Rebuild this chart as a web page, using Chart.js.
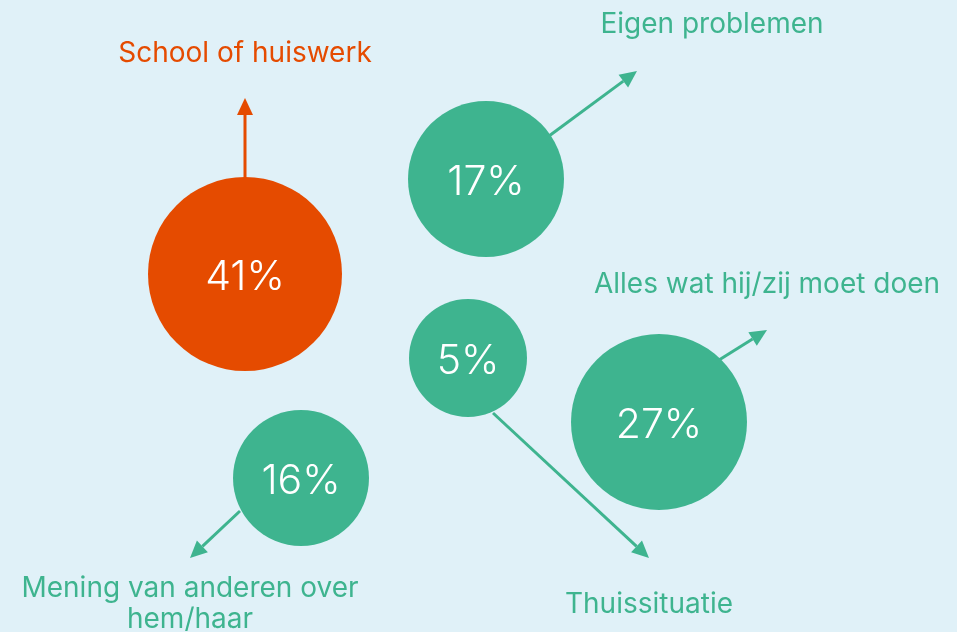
<!DOCTYPE html>
<html>
<head>
<meta charset="utf-8">
<script src="https://cdn.jsdelivr.net/npm/chart.js@4.4.1/dist/chart.umd.min.js"></script>
<style>
  html, body { margin: 0; padding: 0; background: #E0F1F8; }
  #wrap { width: 957px; height: 632px; }
</style>
</head>
<body>
<div id="wrap"><canvas id="bubbleChart" width="957" height="632"></canvas></div>
<script>
// categories and values
const categories = ['School of huiswerk', 'Eigen problemen', 'Thuissituatie', 'Alles wat hij/zij moet doen', ['Mening van anderen over', 'hem/haar']];
const shares = [41, 17, 5, 27, 16];
// bubble layout (free placement, in layout units)
const bubbleX = [245, 486, 468, 659, 301];
const bubbleY = [274, 179, 358, 422, 478];
const bubbleR = [97, 78, 59, 88, 68];

const ORANGE = '#E54B00';
const GREEN = '#3EB48F';
const BG = '#E0F1F8';
const colors = shares.map((v, i) => i === 0 ? ORANGE : GREEN);

// arrows: start at bubble edge, end at tip
const arrowFrom = [[245, 180], [549, 136], [493, 413], [719, 360], [240, 511]];
const arrowTo = [[245, 98], [637, 71], [649, 558], [767, 330], [190, 558]];
// where each category label sits (centre x, first baseline y)
const labelAt = [[245, 62], [712, 33], [649, 613], [767, 293], [190, 597]];

const FONT = 'Inter, "Open Sans", sans-serif';
const W = 957, H = 632;
// bubble charts inset the chart area by the largest radius
const inset = Math.max(...bubbleR);

const bg = {
    id: 'bg',
    beforeDraw(chart) {
        const ctx = chart.ctx;
        ctx.save();
        ctx.fillStyle = BG;
        ctx.fillRect(0, 0, chart.width, chart.height);
        ctx.restore();
    }
};

const annotations = {
    id: 'annotations',
    beforeDatasetsDraw(chart) {
        const { ctx, scales: { x, y } } = chart;
        ctx.save();
        arrowFrom.forEach((p, i) => {
            const x1 = x.getPixelForValue(p[0]), y1 = y.getPixelForValue(p[1]);
            const x2 = x.getPixelForValue(arrowTo[i][0]), y2 = y.getPixelForValue(arrowTo[i][1]);
            const a = Math.atan2(y2 - y1, x2 - x1);
            const head = 17, half = 8;
            const bx = x2 - head * Math.cos(a), by = y2 - head * Math.sin(a);
            ctx.strokeStyle = colors[i];
            ctx.fillStyle = colors[i];
            ctx.lineWidth = 3;
            ctx.beginPath();
            ctx.moveTo(x1, y1);
            ctx.lineTo(bx, by);
            ctx.stroke();
            ctx.beginPath();
            ctx.moveTo(x2, y2);
            ctx.lineTo(bx + half * Math.sin(a), by - half * Math.cos(a));
            ctx.lineTo(bx - half * Math.sin(a), by + half * Math.cos(a));
            ctx.closePath();
            ctx.fill();
        });
        ctx.restore();
    },
    afterDatasetsDraw(chart) {
        const { ctx, scales: { x, y } } = chart;
        ctx.save();
        ctx.textAlign = 'center';
        ctx.textBaseline = 'alphabetic';
        // percentages inside the bubbles
        ctx.fillStyle = '#FFFFFF';
        ctx.font = '300 41px ' + FONT;
        shares.forEach((v, i) => {
            ctx.fillText(v + '%', x.getPixelForValue(bubbleX[i]), y.getPixelForValue(bubbleY[i]) + 16);
        });
        // category labels
        ctx.font = '400 28px ' + FONT;
        categories.forEach((c, i) => {
            const lines = Array.isArray(c) ? c : [c];
            ctx.fillStyle = colors[i];
            lines.forEach((t, k) => {
                ctx.fillText(t, x.getPixelForValue(labelAt[i][0]), y.getPixelForValue(labelAt[i][1]) + k * 31);
            });
        });
        ctx.restore();
    }
};

const ctx = document.getElementById('bubbleChart').getContext('2d');
const bubbleChart = new Chart(ctx, {
    type: 'bubble',
    data: {
        datasets: [{
            label: 'Aandeel',
            data: shares.map((v, i) => ({ x: bubbleX[i], y: bubbleY[i], r: bubbleR[i], v: v })),
            backgroundColor: colors,
            borderWidth: 0,
            hoverRadius: 0,
            clip: false
        }]
    },
    options: {
        responsive: false,
        animation: false,
        layout: { padding: 0 },
        scales: {
            x: { type: 'linear', min: inset, max: W - inset, display: false },
            y: { type: 'linear', min: inset, max: H - inset, reverse: true, display: false }
        },
        plugins: {
            legend: { display: false },
            tooltip: { enabled: false }
        }
    },
    plugins: [bg, annotations]
});
</script>
</body>
</html>
